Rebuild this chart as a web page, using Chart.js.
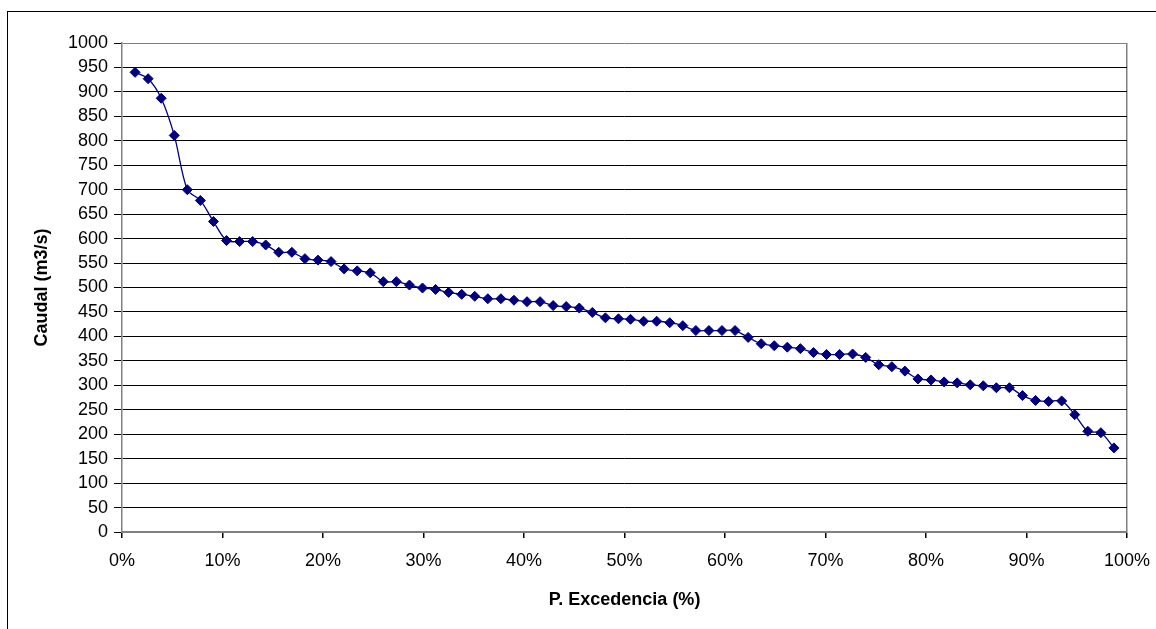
<!DOCTYPE html>
<html>
<head>
<meta charset="utf-8">
<script src="https://cdn.jsdelivr.net/npm/chart.js@4"></script>
<style>
  html, body { margin: 0; padding: 0; background: #fff; }
  #wrap { width: 1156px; height: 629px; position: relative; }
</style>
</head>
<body>
<div id="wrap"><canvas id="curva"></canvas></div>
<script>
// probabilidad de excedencia (%) de cada caudal ordenado
const excedencia = [
  1.3, 2.6, 3.9, 5.2, 6.5, 7.8, 9.1, 10.4, 11.7, 13.0, 14.3, 15.6, 16.9, 18.2, 19.5, 20.8,
  22.1, 23.4, 24.7, 26.0, 27.3, 28.6, 29.9, 31.2, 32.5, 33.8, 35.1, 36.4, 37.7, 39.0, 40.3,
  41.6, 42.9, 44.2, 45.5, 46.8, 48.1, 49.4, 50.6, 51.9, 53.2, 54.5, 55.8, 57.1, 58.4, 59.7,
  61.0, 62.3, 63.6, 64.9, 66.2, 67.5, 68.8, 70.1, 71.4, 72.7, 74.0, 75.3, 76.6, 77.9, 79.2,
  80.5, 81.8, 83.1, 84.4, 85.7, 87.0, 88.3, 89.6, 90.9, 92.2, 93.5, 94.8, 96.1, 97.4, 98.7
];

// caudal (m3/s)
const caudal = [
  940, 927, 887, 811, 700, 678, 635, 596, 594, 594, 587, 572, 572, 559, 556, 553,
  538, 534, 530, 512, 512, 505, 499, 496, 490, 486, 482, 477, 477, 474, 471,
  471, 463, 461, 458, 449, 438, 436, 435, 431, 431, 428, 422, 412, 412, 412,
  412, 398, 385, 381, 378, 375, 367, 363, 363, 364, 357, 342, 338, 329, 313,
  311, 307, 305, 301, 299, 295, 295, 279, 269, 267, 268, 240, 206, 203, 172
];

const xTicks = [0, 10, 20, 30, 40, 50, 60, 70, 80, 90, 100];
const yTicks = [0, 50, 100, 150, 200, 250, 300, 350, 400, 450, 500, 550, 600, 650, 700, 750, 800, 850, 900, 950, 1000];

const puntos = excedencia.map((p, i) => ({ x: p, y: caudal[i] }));

// marco exterior (solo se ve arriba y a la izquierda)
const marco = {
  id: "marco",
  beforeDraw(chart) {
    const ctx = chart.ctx;
    ctx.save();
    ctx.fillStyle = "#fff";
    ctx.fillRect(0, 0, chart.width, chart.height);
    ctx.strokeStyle = "#000";
    ctx.lineWidth = 1;
    ctx.strokeRect(7.5, 11.5, chart.width + 10, chart.height + 10);
    ctx.restore();
  },
};

const fuente = "'Liberation Sans', Arial, sans-serif";

new Chart(document.getElementById("curva"), {
  type: "line",
  data: {
    datasets: [{
      data: puntos,
      borderColor: "#000080",
      backgroundColor: "#000080",
      borderWidth: 1.3,
      tension: 0.3,
      pointStyle: "rectRot",
      pointRadius: 5,
      pointBorderWidth: 1,
      pointBorderColor: "#000080",
      pointBackgroundColor: "#000080",
    }],
  },
  options: {
    responsive: true,
    maintainAspectRatio: false,
    animation: false,
    layout: { padding: { top: 43, right: 29, left: 0, bottom: 0 } },
    plugins: {
      legend: { display: false },
      tooltip: { enabled: false },
    },
    scales: {
      x: {
        type: "linear",
        min: 0,
        max: 100,
        afterFit: (s) => {
          s.height = 97;
          s.paddingLeft = 0;
          s.paddingRight = 0;
        },
        afterBuildTicks: (s) => { s.ticks = xTicks.map((v) => ({ value: v })); },
        ticks: {
          callback: (v) => v + "%",
          color: "#000",
          font: { family: fuente, size: 18 },
          padding: 12,
          maxRotation: 0,
          autoSkip: false,
        },
        grid: {
          color: (c) => (c.tick && c.tick.value === 100 ? "#808080" : "rgba(0,0,0,0)"),
          tickColor: "#000",
          tickLength: 6,
          lineWidth: 1.5,
        },
        border: { color: "#808080", width: 1.5 },
        title: {
          display: true,
          text: "P. Excedencia (%)",
          color: "#000",
          font: { family: fuente, size: 18, weight: "bold" },
          padding: { top: 0, bottom: 18 },
        },
      },
      y: {
        min: 0,
        max: 1000,
        afterFit: (s) => {
          s.width = 122;
          s.paddingTop = 0;
          s.paddingBottom = 0;
        },
        afterBuildTicks: (s) => { s.ticks = yTicks.map((v) => ({ value: v })); },
        ticks: {
          callback: (v) => String(v),
          color: "#000",
          font: { family: fuente, size: 18 },
          padding: 6,
          autoSkip: false,
        },
        grid: {
          color: (c) => (c.tick && (c.tick.value === 0 || c.tick.value === 1000) ? "#808080" : "#000"),
          tickColor: "#000",
          tickLength: 8,
          lineWidth: 1,
        },
        border: { color: "#808080", width: 1.5 },
        title: {
          display: true,
          text: "Caudal (m3/s)",
          color: "#000",
          font: { family: fuente, size: 18, weight: "bold" },
          padding: { top: 31, bottom: 0 },
        },
      },
    },
  },
  plugins: [marco],
});
</script>
</body>
</html>
